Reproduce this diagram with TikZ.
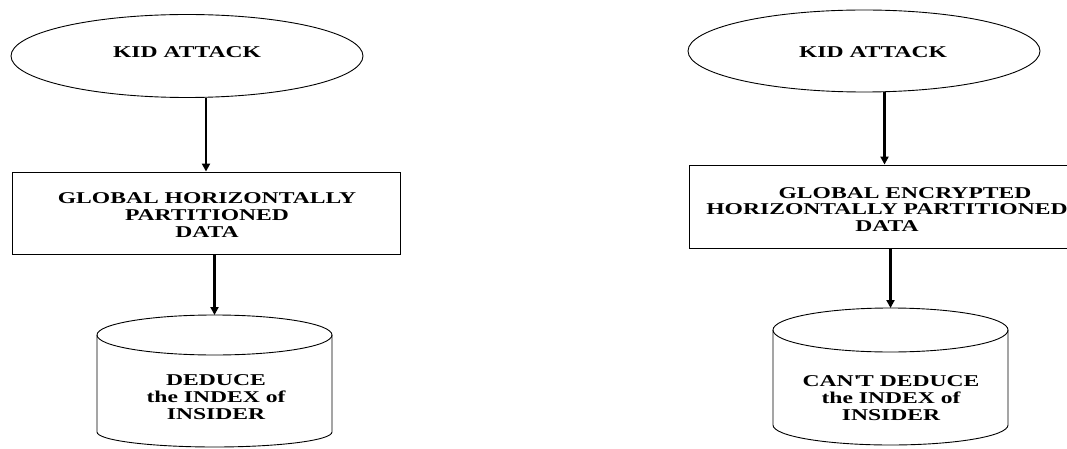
\documentclass[tikz,border=0pt]{standalone}
\usepackage{fontspec}
\setmainfont{Liberation Serif}[FakeStretch=1.43]
\usetikzlibrary{arrows.meta,shapes.geometric}
\begin{document}
\begin{tikzpicture}[x=1pt,y=-1pt,
  lbl/.style={font=\bfseries\fontsize{16.5}{16.8}\selectfont, align=center, inner sep=0pt},
  shp/.style={draw, line width=0.9pt},
  arr/.style={line width=2.2pt, -{Triangle[length=8pt,width=8pt]}}]
\useasboundingbox (0,0) rectangle (1067,449);
\clip (0,0) rectangle (1067,449);
% ---------- left ----------
\node[shp, ellipse, minimum width=352pt, minimum height=83pt, inner sep=0pt] (e1) at (187,56) {};
\node[lbl] (t1) at (187,52) {KID ATTACK};
\node[shp, rectangle, minimum width=388pt, minimum height=82pt, inner sep=0pt] (b1) at (206,213) {};
\node[lbl] (tb1) at (207,215) {GLOBAL HORIZONTALLY\\PARTITIONED\\DATA};
\coordinate (c1) at (214.5,315);
\draw[shp] (214.5,335) ellipse [x radius=117.5pt, y radius=20pt];
\draw[shp] (97,335) -- (97,432) arc[start angle=180, end angle=360, x radius=117.5pt, y radius=15pt] -- (332,335);
\node[lbl] (tc1) at (216,397) {DEDUCE\\the INDEX of\\INSIDER};
\draw[arr] (e1.south -| b1.north) -- (b1.north);
\draw[arr] (b1.south -| c1) -- (c1);
% ---------- right ----------
\node[shp, ellipse, minimum width=352pt, minimum height=82pt, inner sep=0pt] (e2) at (864,51) {};
\node[lbl] (t2) at (873,52) {KID ATTACK};
\node[shp, rectangle, minimum width=391pt, minimum height=83pt, inner sep=0pt] (b2) at (884.5,206.5) {};
\node[lbl] (tb2) at (887,209.5) {\hspace*{36pt}GLOBAL ENCRYPTED\\HORIZONTALLY PARTITIONED\\DATA};
\coordinate (c2) at (890.5,308);
\draw[shp] (890.5,330) ellipse [x radius=117.5pt, y radius=22pt];
\draw[shp] (773,330) -- (773,425) arc[start angle=180, end angle=360, x radius=117.5pt, y radius=20pt] -- (1008,330);
\node[lbl] (tc2) at (891,398) {CAN\textquotesingle T DEDUCE\\the INDEX of\\INSIDER};
\draw[arr] (e2.south -| b2.north) -- (b2.north);
\draw[arr] (b2.south -| c2) -- (c2);
\end{tikzpicture}
\end{document}
